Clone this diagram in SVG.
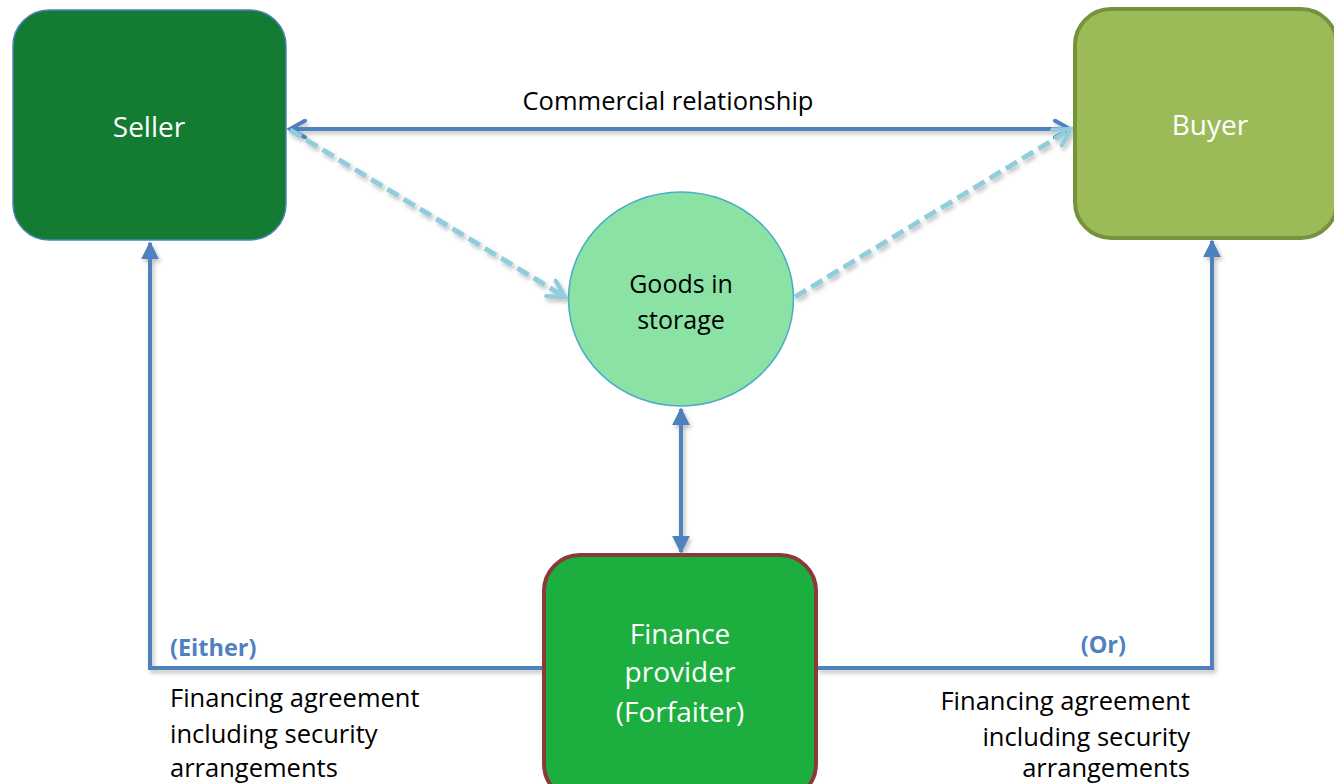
<svg xmlns="http://www.w3.org/2000/svg" width="1334" height="784" viewBox="0 0 1334 784">
<style>
.lbl{font-family:"Open Sans","Liberation Sans",sans-serif;}
.wt{fill:#ffffff;text-anchor:middle;dominant-baseline:central;}
.bk{fill:#000000;}
.blue{fill:#4F81BD;font-weight:bold;}
.solid{stroke:#4F81BD;stroke-width:4;fill:none;}
.dash{stroke:#92CDDC;stroke-width:5;fill:none;stroke-dasharray:13 6;}
</style>
<defs>
<filter id="sh" x="-10%" y="-10%" width="120%" height="130%">
<feDropShadow dx="2" dy="3" stdDeviation="2" flood-color="#000" flood-opacity="0.25"/>
</filter>
<marker id="open" viewBox="0 0 12 12" refX="10" refY="6" markerWidth="5" markerHeight="5" orient="auto-start-reverse" markerUnits="strokeWidth">
<path d="M1,1 L10,6 L1,11" fill="none" stroke="#4F81BD" stroke-width="2.4" stroke-linecap="round"/>
</marker>
<marker id="openL" viewBox="0 0 12 12" refX="10" refY="6" markerWidth="4.4" markerHeight="4.4" orient="auto-start-reverse" markerUnits="strokeWidth">
<path d="M1,1 L10,6 L1,11" fill="none" stroke="#92CDDC" stroke-width="2.4" stroke-linecap="round"/>
</marker>
<marker id="tri" viewBox="0 0 10 10" refX="9" refY="5" markerWidth="4.5" markerHeight="4.5" orient="auto-start-reverse" markerUnits="strokeWidth">
<path d="M0,0 L10,5 L0,10 Z" fill="#4F81BD"/>
</marker>
</defs>

<g id="connectors" filter="url(#sh)">
<line class="solid" x1="290" y1="129" x2="1070" y2="129" marker-start="url(#open)" marker-end="url(#open)"/>
<line class="dash" x1="290" y1="130" x2="565" y2="297" marker-end="url(#openL)"/>
<line class="dash" x1="795" y1="297" x2="1071" y2="129" marker-end="url(#openL)"/>
<line class="solid" x1="681" y1="409" x2="681" y2="552" marker-start="url(#tri)" marker-end="url(#tri)"/>
<polyline class="solid" points="543,668 150,668 150,243" marker-end="url(#tri)"/>
<polyline class="solid" points="817,668 1212,668 1212,241" marker-end="url(#tri)"/>
</g>

<g id="seller">
<rect x="13" y="10" width="273" height="230" rx="36" fill="#137C32" stroke="#4F81BD" stroke-width="1.5"/>
<text class="lbl wt" x="149" y="126" font-size="28">Seller</text>
</g>

<g id="buyer">
<rect x="1075" y="9" width="262" height="229" rx="36" fill="#9BBB59" stroke="#76923C" stroke-width="4"/>
<text class="lbl wt" x="1210" y="124" font-size="28">Buyer</text>
</g>

<g id="goods">
<ellipse cx="681" cy="299" rx="112.5" ry="107" fill="#8AE3A5" stroke="#4BACC6" stroke-width="1.5"/>
<text class="lbl bk" x="681" y="283" font-size="25" text-anchor="middle" dominant-baseline="central">Goods in</text>
<text class="lbl bk" x="681" y="319" font-size="25" text-anchor="middle" dominant-baseline="central">storage</text>
</g>

<g id="finance">
<rect x="544" y="555" width="272" height="245" rx="36" fill="#1CAF40" stroke="#8B3A3A" stroke-width="4"/>
<text class="lbl wt" x="680" y="633" font-size="28">Finance</text>
<text class="lbl wt" x="680" y="671" font-size="28">provider</text>
<text class="lbl wt" x="680" y="711" font-size="28">(Forfaiter)</text>
</g>

<g id="labels">
<text class="lbl bk" x="668" y="100" font-size="25.5" text-anchor="middle" dominant-baseline="central">Commercial relationship</text>
<text class="lbl blue" x="170" y="647" font-size="23.5" dominant-baseline="central">(Either)</text>
<text class="lbl blue" x="1126" y="644" font-size="23.5" text-anchor="end" dominant-baseline="central">(Or)</text>
<text class="lbl bk" x="170" y="697" font-size="25.5" dominant-baseline="central">Financing agreement</text>
<text class="lbl bk" x="170" y="733" font-size="25.5" dominant-baseline="central">including security</text>
<text class="lbl bk" x="170" y="767" font-size="25.5" dominant-baseline="central">arrangements</text>
<text class="lbl bk" x="1190" y="700" font-size="25.5" text-anchor="end" dominant-baseline="central">Financing agreement</text>
<text class="lbl bk" x="1190" y="736" font-size="25.5" text-anchor="end" dominant-baseline="central">including security</text>
<text class="lbl bk" x="1190" y="767" font-size="25.5" text-anchor="end" dominant-baseline="central">arrangements</text>
</g>
</svg>
